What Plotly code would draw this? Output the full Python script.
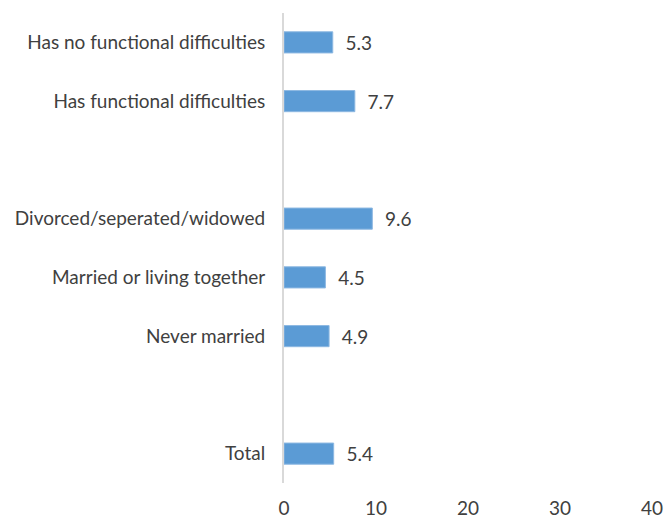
import plotly.graph_objects as go

categories = [
    "Has no functional difficulties",
    "Has functional difficulties",
    " ",
    "Divorced/seperated/widowed",
    "Married or living together",
    "Never married",
    "  ",
    "Total",
]
values = [5.3, 7.7, None, 9.6, 4.5, 4.9, None, 5.4]
x_ticks = [0, 10, 20, 30, 40]

font_family = "Lato, Open Sans, sans-serif"
text_color = "#404040"

fig = go.Figure(
    go.Bar(
        y=categories,
        x=values,
        orientation="h",
        width=0.36,
        marker=dict(color="#5B9BD5", line=dict(color="#8DB8E2", width=1)),
        text=[("\u00a0\u00a0" + f"{v}") if v is not None else "" for v in values],
        textposition="outside",
        constraintext="none",
        cliponaxis=False,
        textfont=dict(family=font_family, size=19, color=text_color),
        hoverinfo="skip",
    )
)

fig.update_layout(
    width=664,
    height=518,
    margin=dict(l=284, r=12, t=13, b=35, autoexpand=False),
    plot_bgcolor="white",
    paper_bgcolor="white",
    showlegend=False,
    font=dict(family=font_family, size=19, color=text_color),
)
fig.update_xaxes(
    range=[0, 40],
    tickvals=x_ticks,
    showgrid=False,
    zeroline=False,
    showline=False,
    ticks="",
    automargin=False,
    ticklabelstandoff=12,
    tickfont=dict(size=19, color=text_color),
)
fig.update_yaxes(
    categoryorder="array",
    categoryarray=categories,
    autorange="reversed",
    showgrid=False,
    showline=True,
    linecolor="#D9D9D9",
    linewidth=2,
    ticks="",
    automargin=False,
    ticklabelstandoff=13,
    tickfont=dict(size=19, color=text_color),
)

fig.write_html(
    "out.html",
    config={"displayModeBar": False, "staticPlot": True},
    post_script="document.body.style.margin='0';document.body.style.overflow='hidden';",
)
